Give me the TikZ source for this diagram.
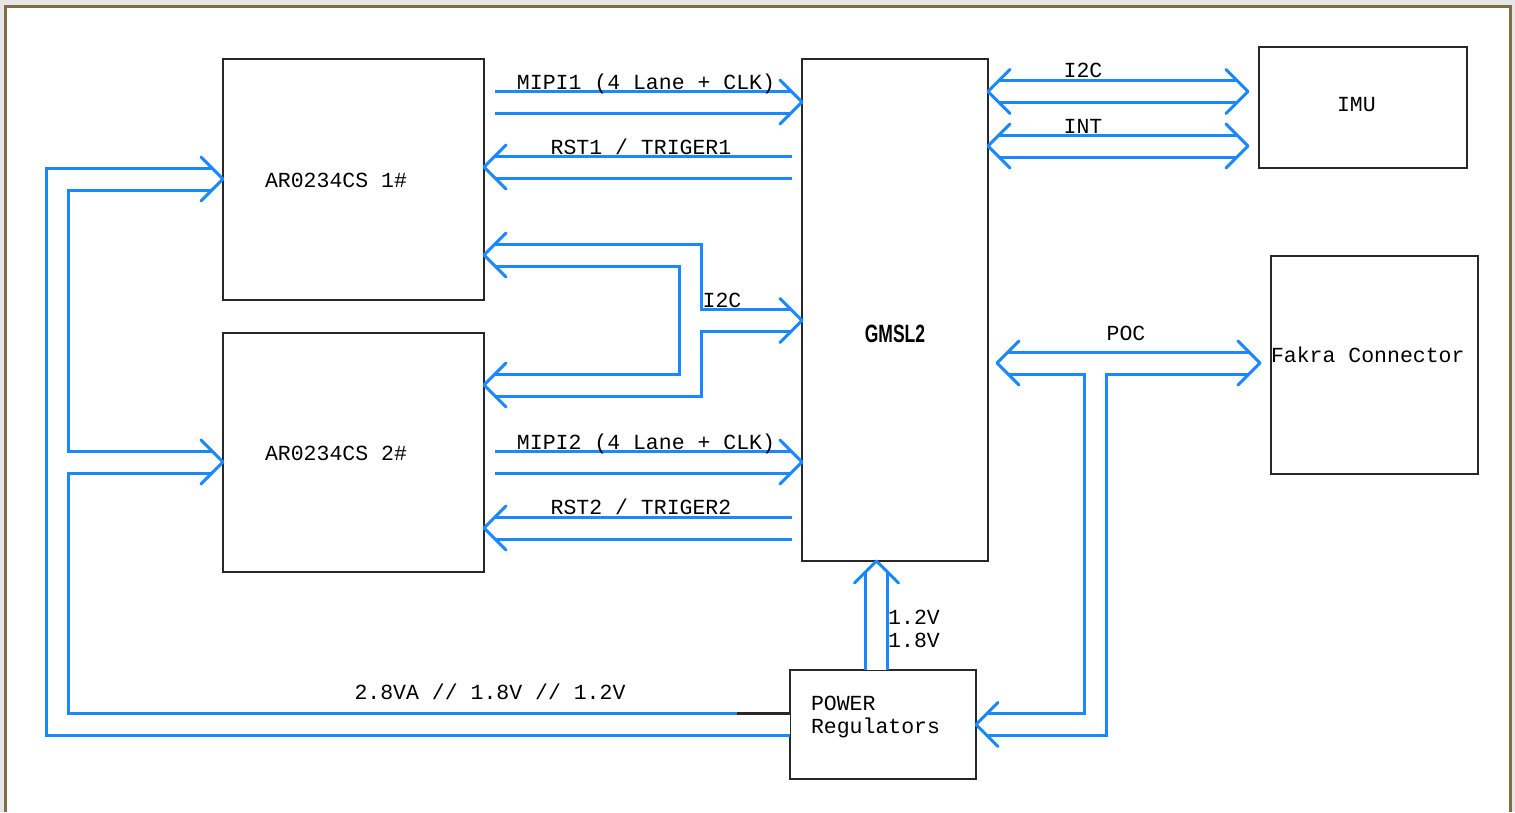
\documentclass[tikz,border=0pt]{standalone}
\usepackage{fontspec}
\setmonofont{Liberation Mono}
\setsansfont{Liberation Sans}
\newfontfamily\gmslfont[FakeStretch=0.7]{Liberation Sans}
\usetikzlibrary{calc,positioning,decorations.markings}

\definecolor{busblue}{RGB}{26,136,255}
\definecolor{framebrown}{RGB}{128,108,72}
\definecolor{pagegray}{RGB}{230,230,230}
\definecolor{boxline}{RGB}{40,40,40}

\begin{document}
\begin{tikzpicture}[
  x=1pt, y=-1pt,
  font=\fontsize{21.5}{22.5}\selectfont\ttfamily,
  box/.style={draw=boxline, line width=1.6pt, fill=white, inner sep=0pt, outer sep=0pt, align=flush left},
  lbl/.style={inner sep=0pt, anchor=base},
  pipe/.style={draw=busblue, line width=3pt, double=white, double distance=19pt},
  chev/.style={draw=busblue, line width=3pt, line cap=round, line join=round},
  headend/.style={postaction={decorate, decoration={markings,
    mark=at position 1 with {\draw[chev] (-11,-22) -- (11,0) -- (-11,22);}}}},
  headstart/.style={postaction={decorate, decoration={markings,
    mark=at position 0 with {\draw[chev] (11,-22) -- (-11,0) -- (11,22);}}}},
]
  \useasboundingbox (0,0) rectangle (1515,812);
  \fill[pagegray] (0,0) rectangle (1515,812);
  \fill[white] (5,6) rectangle (1510,812);
  \draw[framebrown, line width=3pt] (5,812) -- (5,6) -- (1510,6) -- (1510,812);

  % blocks
  \node[box, minimum width=261pt, minimum height=241pt, text width=177pt] (ar1) at (353.5,179.5) {\raisebox{-8pt}[0pt][0pt]{AR0234CS 1\#}};
  \node[box, minimum width=261pt, minimum height=239pt, text width=177pt, below=33pt of ar1] (ar2) {\raisebox{-8pt}[0pt][0pt]{AR0234CS 2\#}};
  \node[box, minimum width=186pt, minimum height=502pt, align=center,
        font=\fontsize{25}{27}\selectfont\gmslfont\bfseries] (gmsl) at (895,310) {\raisebox{-32pt}[0pt][0pt]{GMSL2}};
  \node[box, minimum width=208pt, minimum height=121pt, text width=52pt] (imu) at (1363,107.5) {\raisebox{-3.5pt}[0pt][0pt]{IMU}};
  \node[box, minimum width=207pt, minimum height=218pt, text width=207pt] (fakra) at (1374.5,365) {\raisebox{3pt}[0pt][0pt]{Fakra Connector}};
  \node[box, minimum width=186pt, minimum height=109pt] (power) at (883,724.5) {\raisebox{-8.5pt}[0pt][0pt]{\parbox[b]{144pt}{POWER\\Regulators}}};

  \coordinate (i2c fork) at (690.5,320.5);
  \coordinate (rail) at (57.5,462);
  \coordinate (poc tee) at (1095.5,363);

  % sensor links
  \draw[pipe, headend] ($(ar1.east |- 0,102)+(11,0)$) -- ($(gmsl.west |- 0,102)+(-11,0)$);
  \draw[pipe, headend] ($(gmsl.west |- 0,167)+(-10,0)$) -- ($(ar1.east |- 0,167)+(11,0)$);
  \draw[pipe, headend] ($(ar2.east |- 0,462)+(11,0)$) -- ($(gmsl.west |- 0,462)+(-11,0)$);
  \draw[pipe, headend] ($(gmsl.west |- 0,528)+(-10,0)$) -- ($(ar2.east |- 0,528)+(11,0)$);

  % shared I2C
  \draw[pipe, headstart, headend] ($(ar1.east |- 0,255)+(11,0)$) -| (i2c fork) |- ($(ar2.east |- 0,385)+(11,0)$);
  \draw[pipe, headend] ($(i2c fork)+(9.5,0)$) -- ($(gmsl.west |- i2c fork)+(-11,0)$);

  % IMU
  \draw[pipe, headstart, headend] ($(gmsl.east |- 0,91.5)+(11,0)$) -- ($(imu.west |- 0,91.5)+(-22,0)$);
  \draw[pipe, headstart, headend] ($(gmsl.east |- 0,146)+(11,0)$) -- ($(imu.west |- 0,146)+(-22,0)$);

  % POC
  \draw[pipe, headstart, headend] ($(gmsl.east |- poc tee)+(20,0)$) -- ($(fakra.west |- poc tee)+(-22,0)$);
  \draw[pipe, headend] ($(poc tee)+(0,9.5)$) |- ($(power.east)+(11,0)$);

  % supplies
  \draw[pipe, headend] (power.north -| 876.5,0) -- ($(gmsl.south -| 876.5,0)+(0,11)$);
  \draw[pipe, headend] (power.west) -| (rail) |- ($(ar1.west |- 0,179)+(-11,0)$);
  \draw[pipe, headend] ($(rail)+(9.5,0)$) -- ($(ar2.west |- rail)+(-11,0)$);
  \draw[boxline, line width=3pt] ($(power.west)+(-53,-11)$) -- ($(power.west)+(0,-11)$);

  \node[lbl] (mipi1 lbl) at (646,89) {MIPI1 (4 Lane + CLK)};
  \node[lbl] (rst1 lbl) at (641,154) {RST1 / TRIGER1};
  \node[lbl] (i2c lbl) at (722,307) {I2C};
  \node[lbl] (mipi2 lbl) at (646,449) {MIPI2 (4 Lane + CLK)};
  \node[lbl] (rst2 lbl) at (641,514) {RST2 / TRIGER2};
  \node[lbl] (imu i2c lbl) at (1083,77) {I2C};
  \node[lbl] (int lbl) at (1083,133) {INT};
  \node[lbl] (poc lbl) at (1126,340) {POC};
  \node[lbl, anchor=west, align=left] (core lbl) at (888,629) {1.2V\\1.8V};
  \node[lbl] (rail lbl) at (490,699) {2.8VA // 1.8V // 1.2V};
\end{tikzpicture}
\end{document}
